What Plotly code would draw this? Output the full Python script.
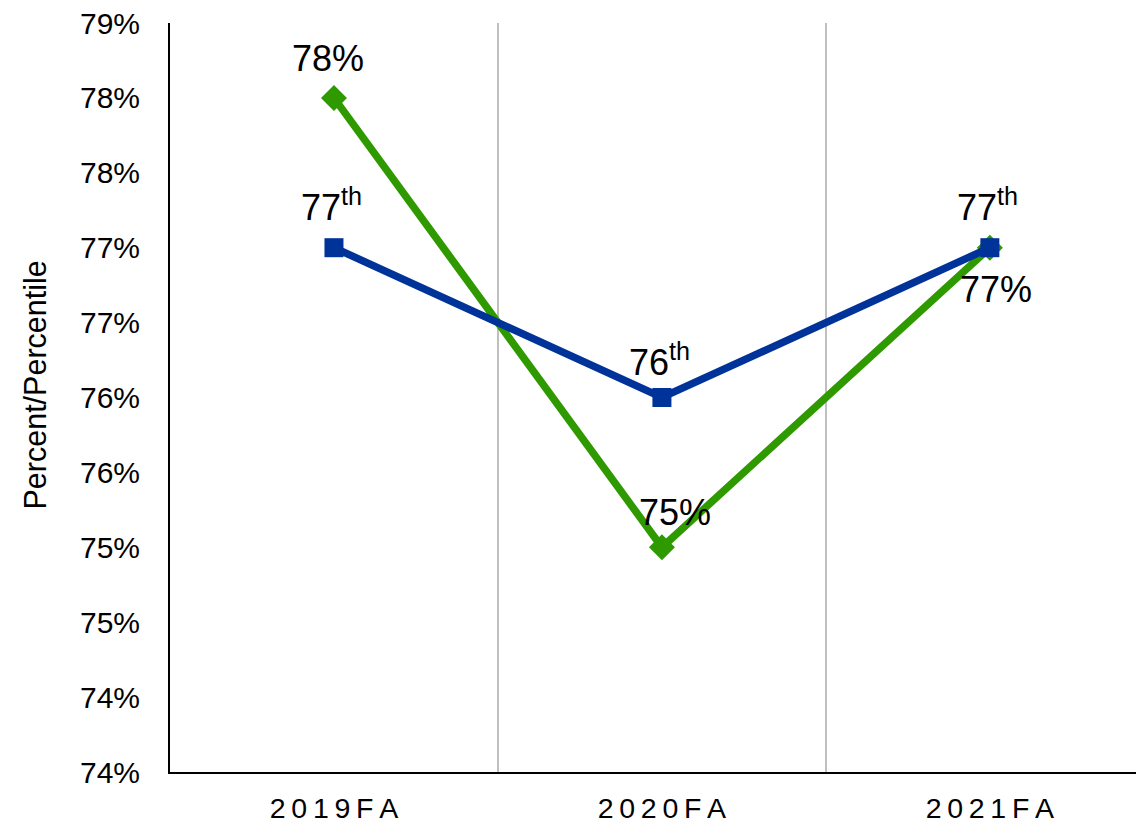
import plotly.graph_objects as go

categories = ["2019FA", "2020FA", "2021FA"]
percent_values = [78.5, 75.5, 77.5]
percent_labels = ["78%", "75%", "77%"]
percentile_values = [77.5, 76.5, 77.5]
percentile_labels = ["77<sup>th</sup>", "76<sup>th</sup>", "77<sup>th</sup>"]
y_tickvals = [74, 74.5, 75, 75.5, 76, 76.5, 77, 77.5, 78, 78.5, 79]
y_ticktext = ["74%", "74%", "75%", "75%", "76%", "76%", "77%", "77%", "78%", "78%", "79%"]
y_title = "Percent/Percentile"

GREEN = "#2E9A00"
BLUE = "#003399"
FONT = "Liberation Sans, Arial, sans-serif"

fig = go.Figure()
fig.add_trace(go.Scatter(
    x=categories, y=percent_values, mode="lines+markers",
    line=dict(color=GREEN, width=7.5),
    marker=dict(symbol="diamond", size=20, color=GREEN),
    name="Percent", cliponaxis=False,
))
fig.add_trace(go.Scatter(
    x=categories, y=percentile_values, mode="lines+markers",
    line=dict(color=BLUE, width=7.5),
    marker=dict(symbol="square", size=19, color=BLUE),
    name="Percentile", cliponaxis=False,
))

# data labels
green_shift = [(-6, 17, "bottom"), (13, 12, "bottom"), (6, -19, "top")]
for c, v, t, (xs, ys, ya) in zip(categories, percent_values, percent_labels, green_shift):
    fig.add_annotation(x=c, y=v, text=t, showarrow=False, xshift=xs, yshift=ys,
                       yanchor=ya, font=dict(family=FONT, size=36, color="black"))
blue_shift = [18, 13, 18]
for c, v, t, ys in zip(categories, percentile_values, percentile_labels, blue_shift):
    fig.add_annotation(x=c, y=v, text=t, showarrow=False, xshift=-2, yshift=ys,
                       yanchor="bottom", font=dict(family=FONT, size=36, color="black"))

# y-axis title
fig.add_annotation(text=y_title, xref="paper", yref="paper", x=0, y=0.5,
                   xanchor="center", yanchor="middle", textangle=-90,
                   xshift=-136, yshift=12, showarrow=False,
                   font=dict(family=FONT, size=30.5, color="black"))

sp = "\u2009"
fig.update_layout(
    width=1136, height=821,
    margin=dict(l=162, r=0, t=15, b=57, autoexpand=False),
    paper_bgcolor="white", plot_bgcolor="white",
    showlegend=False,
    font=dict(family=FONT, color="black"),
    xaxis=dict(
        type="category", range=[-0.5, 2.47], automargin=False,
        tickmode="array", tickvals=categories,
        ticktext=[sp.join(list(c)) for c in categories],
        tickson="boundaries", ticks="", showgrid=True,
        gridcolor="#BFBFBF", gridwidth=2,
        showline=True, linecolor="black", linewidth=2,
        tickfont=dict(family=FONT, size=28.5, color="black"),
        ticklabelstandoff=10, zeroline=False, ticklabeloverflow="allow",
    ),
    yaxis=dict(
        range=[74, 79], tickmode="array", tickvals=y_tickvals, ticktext=y_ticktext,
        showgrid=False, zeroline=False, ticks="", automargin=False,
        showline=True, linecolor="black", linewidth=2,
        tickfont=dict(family=FONT, size=30, color="black"),
        ticklabelstandoff=22, ticklabeloverflow="allow",
    ),
)

fig.write_html("out.html")
